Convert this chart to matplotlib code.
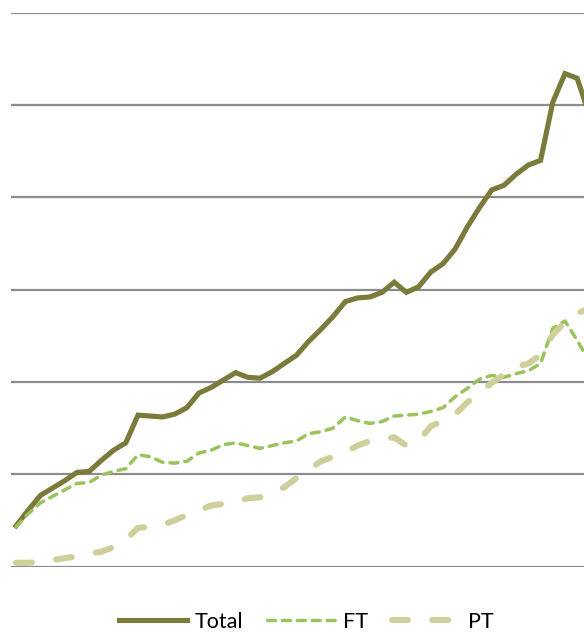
import numpy as np
import matplotlib
matplotlib.use("Agg")
import matplotlib.pyplot as plt

# values in gridline units (one gridline step = 1)
periods = np.arange(48)

total = [0.44, 0.61, 0.77, 0.85, 0.93, 1.02, 1.03, 1.15, 1.26, 1.34,
         1.64, 1.63, 1.62, 1.65, 1.72, 1.88, 1.94, 2.02, 2.10, 2.05,
         2.04, 2.11, 2.20, 2.29, 2.44, 2.57, 2.71, 2.87, 2.91, 2.92,
         2.97, 3.08, 2.97, 3.03, 3.19, 3.28, 3.44, 3.68, 3.89, 4.08,
         4.13, 4.25, 4.35, 4.40, 5.03, 5.34, 5.29, 4.89]

ft = [0.43, 0.57, 0.69, 0.76, 0.83, 0.90, 0.91, 0.99, 1.03, 1.06,
      1.21, 1.19, 1.13, 1.12, 1.14, 1.23, 1.26, 1.32, 1.34, 1.31,
      1.28, 1.31, 1.34, 1.36, 1.44, 1.46, 1.50, 1.62, 1.58, 1.55,
      1.57, 1.63, 1.64, 1.65, 1.68, 1.72, 1.84, 1.93, 2.03, 2.07,
      2.05, 2.09, 2.12, 2.20, 2.58, 2.66, 2.45, 2.22]

pt = [0.04, 0.04, 0.05, 0.07, 0.09, 0.11, 0.14, 0.16, 0.21, 0.29,
      0.42, 0.43, 0.45, 0.50, 0.56, 0.61, 0.66, 0.68, 0.70, 0.74,
      0.75, 0.79, 0.86, 0.96, 1.05, 1.14, 1.19, 1.24, 1.31, 1.36,
      1.38, 1.40, 1.31, 1.36, 1.52, 1.58, 1.65, 1.78, 1.88, 1.99,
      2.08, 2.16, 2.20, 2.29, 2.51, 2.65, 2.74, 2.80]

W, H = 584, 632
fig = plt.figure(figsize=(W / 100, H / 100), dpi=100)

# axes: gridline 0 at y=566.5px, gridline 6 at y=12.7px, left edge x=11px
ax = fig.add_axes([11 / W, (H - 566.5) / H, (W - 11) / W, (566.5 - 12.7) / H])
ax.set_xlim(-0.41, 46.56)
ax.set_ylim(0, 6)

ax.set_yticks(np.arange(0, 7))
ax.yaxis.grid(True, color="#8c8c8c", linewidth=1.6)
ax.set_axisbelow(True)
ax.tick_params(left=False, bottom=False, labelleft=False, labelbottom=False)
for s in ax.spines.values():
    s.set_visible(False)

ax.plot(periods, total, color="#7a7a3b", linewidth=3.7, label="Total",
        solid_joinstyle="miter")
ax.plot(periods, ft, color="#9bc35c", linewidth=2.5, label="FT",
        dashes=(2.3, 2.0), dash_capstyle="round")
ax.plot(periods, pt, color="#cfcf9c", linewidth=4.4, label="PT",
        dashes=(2.6, 4.0), dash_capstyle="round")

fig.legend(loc="center", bbox_to_anchor=(306 / W, (H - 622) / H), ncol=3,
           frameon=False, prop={"family": "Lato", "size": 15.5},
           handlelength=3.15, handletextpad=0.38, columnspacing=1.1,
           borderpad=0)

fig.savefig("out.png", dpi=100)
